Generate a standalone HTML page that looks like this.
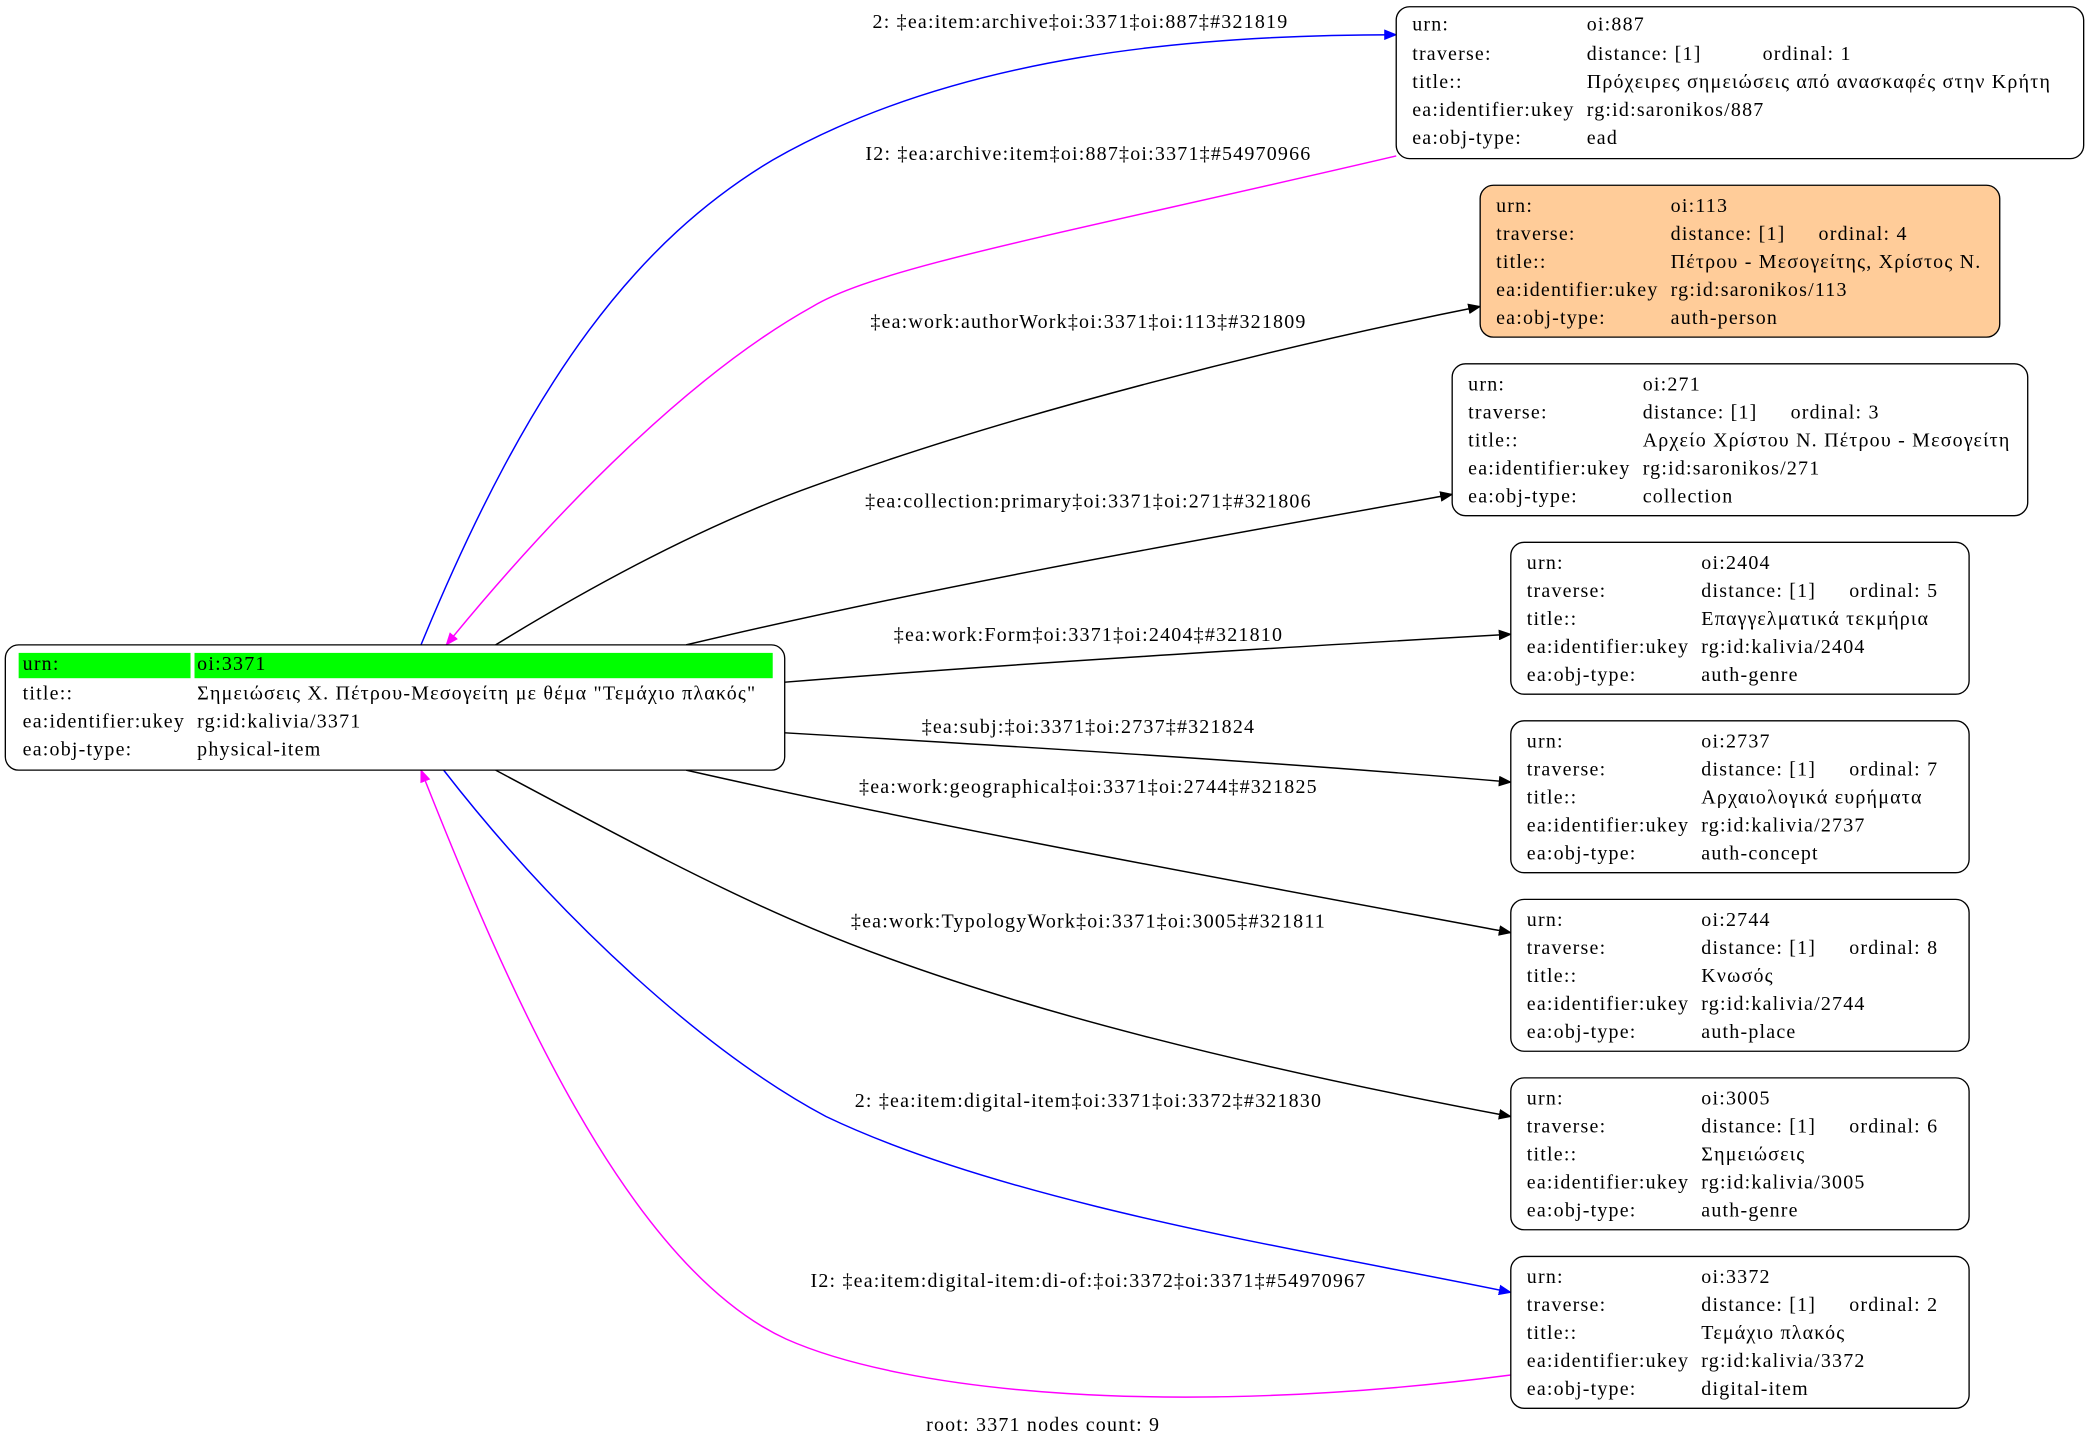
<!DOCTYPE html>
<html><head><meta charset="utf-8"><style>
html,body{margin:0;padding:0;background:#fff;}
svg{display:block}
text{font-family:"Liberation Serif","DejaVu Serif",serif;font-size:15px;letter-spacing:0.9px;fill:#000}
</style></head><body>
<svg width="2089" height="1447" viewBox="0 0 1568 1086" xmlns="http://www.w3.org/2000/svg">
<defs>
<marker id="ak" markerWidth="10" markerHeight="8" refX="9" refY="4" orient="auto" markerUnits="userSpaceOnUse"><path d="M0,0 L10,4 L0,8z" fill="#000"/></marker>
<marker id="ab" markerWidth="10" markerHeight="8" refX="9" refY="4" orient="auto" markerUnits="userSpaceOnUse"><path d="M0,0 L10,4 L0,8z" fill="#00f"/></marker>
<marker id="am" markerWidth="10" markerHeight="8" refX="9" refY="4" orient="auto" markerUnits="userSpaceOnUse"><path d="M0,0 L10,4 L0,8z" fill="#f0f"/></marker>
</defs>
<g fill="none" stroke-width="1.1">
<path d="M316,484 C400,280 480,180 580,120 C720,40 900,26 1048,26" stroke="#00f" marker-end="url(#ab)"/>
<path d="M1048,117 C800,175 660,200 610,230 C520,280 420,380 335,484" stroke="#f0f" marker-end="url(#am)"/>
<path d="M372,484 C460,430 540,390 610,365 C760,310 960,260 1111,230" stroke="#000" marker-end="url(#ak)"/>
<path d="M515,484 C700,440 900,405 1090,371" stroke="#000" marker-end="url(#ak)"/>
<path d="M589,512 C760,498 960,486 1134,476" stroke="#000" marker-end="url(#ak)"/>
<path d="M589,550 C760,560 960,572 1134,587" stroke="#000" marker-end="url(#ak)"/>
<path d="M515,578 C700,620 920,660 1134,700" stroke="#000" marker-end="url(#ak)"/>
<path d="M372,578 C460,625 540,668 610,697 C760,760 960,805 1134,838" stroke="#000" marker-end="url(#ak)"/>
<path d="M333,578 C420,690 530,790 620,838 C760,905 990,940 1134,970" stroke="#00f" marker-end="url(#ab)"/>
<path d="M1134,1032 C880,1065 680,1045 590,1005 C470,950 380,740 316,578" stroke="#f0f" marker-end="url(#am)"/>
</g>
<g text-anchor="middle">
<text x="811" y="21">2: ‡ea:item:archive‡oi:3371‡oi:887‡#321819</text>
<text x="817" y="120">I2: ‡ea:archive:item‡oi:887‡oi:3371‡#54970966</text>
<text x="817" y="246">‡ea:work:authorWork‡oi:3371‡oi:113‡#321809</text>
<text x="817" y="381">‡ea:collection:primary‡oi:3371‡oi:271‡#321806</text>
<text x="817" y="481">‡ea:work:Form‡oi:3371‡oi:2404‡#321810</text>
<text x="817" y="550">‡ea:subj:‡oi:3371‡oi:2737‡#321824</text>
<text x="817" y="595">‡ea:work:geographical‡oi:3371‡oi:2744‡#321825</text>
<text x="817" y="696">‡ea:work:TypologyWork‡oi:3371‡oi:3005‡#321811</text>
<text x="817" y="831">2: ‡ea:item:digital-item‡oi:3371‡oi:3372‡#321830</text>
<text x="817" y="966">I2: ‡ea:item:digital-item:di-of:‡oi:3372‡oi:3371‡#54970967</text>
<text x="783" y="1074">root: 3371 nodes count: 9</text>
</g>
<rect x="4" y="484" width="585" height="94" rx="10" fill="#fff" stroke="#000"/>
<rect x="14" y="490" width="129" height="19" fill="#0f0"/>
<rect x="146" y="490" width="434" height="19" fill="#0f0"/>
<text x="17" y="503">urn:</text><text x="148" y="503">oi:3371</text>
<text x="17" y="525">title::</text><text x="148" y="525">Σημειώσεις Χ. Πέτρου-Μεσογείτη με θέμα "Τεμάχιο πλακός"</text>
<text x="17" y="546">ea:identifier:ukey</text><text x="148" y="546">rg:id:kalivia/3371</text>
<text x="17" y="567">ea:obj-type:</text><text x="148" y="567">physical-item</text>

<g>
<rect x="1048" y="5" width="516" height="114" rx="10" fill="#fff" stroke="#000"/>
<text x="1060" y="23">urn:</text><text x="1191" y="23">oi:887</text>
<text x="1060" y="45">traverse:</text><text x="1191" y="45">distance: [1]</text><text x="1323" y="45">ordinal: 1</text>
<text x="1060" y="66">title::</text><text x="1191" y="66">Πρόχειρες σημειώσεις από ανασκαφές στην Κρήτη</text>
<text x="1060" y="87">ea:identifier:ukey</text><text x="1191" y="87">rg:id:saronikos/887</text>
<text x="1060" y="108">ea:obj-type:</text><text x="1191" y="108">ead</text>
</g>
<g>
<rect x="1111" y="139" width="390" height="114" rx="10" fill="#ffcc99" stroke="#000"/>
<text x="1123" y="159">urn:</text><text x="1254" y="159">oi:113</text>
<text x="1123" y="180">traverse:</text><text x="1254" y="180">distance: [1]</text><text x="1365" y="180">ordinal: 4</text>
<text x="1123" y="201">title::</text><text x="1254" y="201">Πέτρου - Μεσογείτης, Χρίστος Ν.</text>
<text x="1123" y="222">ea:identifier:ukey</text><text x="1254" y="222">rg:id:saronikos/113</text>
<text x="1123" y="243">ea:obj-type:</text><text x="1254" y="243">auth-person</text>
</g>
<g>
<rect x="1090" y="273" width="432" height="114" rx="10" fill="#fff" stroke="#000"/>
<text x="1102" y="293">urn:</text><text x="1233" y="293">oi:271</text>
<text x="1102" y="314">traverse:</text><text x="1233" y="314">distance: [1]</text><text x="1344" y="314">ordinal: 3</text>
<text x="1102" y="335">title::</text><text x="1233" y="335">Αρχείο Χρίστου Ν. Πέτρου - Μεσογείτη</text>
<text x="1102" y="356">ea:identifier:ukey</text><text x="1233" y="356">rg:id:saronikos/271</text>
<text x="1102" y="377">ea:obj-type:</text><text x="1233" y="377">collection</text>
</g>
<g>
<rect x="1134" y="407" width="344" height="114" rx="10" fill="#fff" stroke="#000"/>
<text x="1146" y="427">urn:</text><text x="1277" y="427">oi:2404</text>
<text x="1146" y="448">traverse:</text><text x="1277" y="448">distance: [1]</text><text x="1388" y="448">ordinal: 5</text>
<text x="1146" y="469">title::</text><text x="1277" y="469">Επαγγελματικά τεκμήρια</text>
<text x="1146" y="490">ea:identifier:ukey</text><text x="1277" y="490">rg:id:kalivia/2404</text>
<text x="1146" y="511">ea:obj-type:</text><text x="1277" y="511">auth-genre</text>
</g>
<g>
<rect x="1134" y="541" width="344" height="114" rx="10" fill="#fff" stroke="#000"/>
<text x="1146" y="561">urn:</text><text x="1277" y="561">oi:2737</text>
<text x="1146" y="582">traverse:</text><text x="1277" y="582">distance: [1]</text><text x="1388" y="582">ordinal: 7</text>
<text x="1146" y="603">title::</text><text x="1277" y="603">Αρχαιολογικά ευρήματα</text>
<text x="1146" y="624">ea:identifier:ukey</text><text x="1277" y="624">rg:id:kalivia/2737</text>
<text x="1146" y="645">ea:obj-type:</text><text x="1277" y="645">auth-concept</text>
</g>
<g>
<rect x="1134" y="675" width="344" height="114" rx="10" fill="#fff" stroke="#000"/>
<text x="1146" y="695">urn:</text><text x="1277" y="695">oi:2744</text>
<text x="1146" y="716">traverse:</text><text x="1277" y="716">distance: [1]</text><text x="1388" y="716">ordinal: 8</text>
<text x="1146" y="737">title::</text><text x="1277" y="737">Κνωσός</text>
<text x="1146" y="758">ea:identifier:ukey</text><text x="1277" y="758">rg:id:kalivia/2744</text>
<text x="1146" y="779">ea:obj-type:</text><text x="1277" y="779">auth-place</text>
</g>
<g>
<rect x="1134" y="809" width="344" height="114" rx="10" fill="#fff" stroke="#000"/>
<text x="1146" y="829">urn:</text><text x="1277" y="829">oi:3005</text>
<text x="1146" y="850">traverse:</text><text x="1277" y="850">distance: [1]</text><text x="1388" y="850">ordinal: 6</text>
<text x="1146" y="871">title::</text><text x="1277" y="871">Σημειώσεις</text>
<text x="1146" y="892">ea:identifier:ukey</text><text x="1277" y="892">rg:id:kalivia/3005</text>
<text x="1146" y="913">ea:obj-type:</text><text x="1277" y="913">auth-genre</text>
</g>
<g>
<rect x="1134" y="943" width="344" height="114" rx="10" fill="#fff" stroke="#000"/>
<text x="1146" y="963">urn:</text><text x="1277" y="963">oi:3372</text>
<text x="1146" y="984">traverse:</text><text x="1277" y="984">distance: [1]</text><text x="1388" y="984">ordinal: 2</text>
<text x="1146" y="1005">title::</text><text x="1277" y="1005">Τεμάχιο πλακός</text>
<text x="1146" y="1026">ea:identifier:ukey</text><text x="1277" y="1026">rg:id:kalivia/3372</text>
<text x="1146" y="1047">ea:obj-type:</text><text x="1277" y="1047">digital-item</text>
</g>
</svg>
</body></html>
